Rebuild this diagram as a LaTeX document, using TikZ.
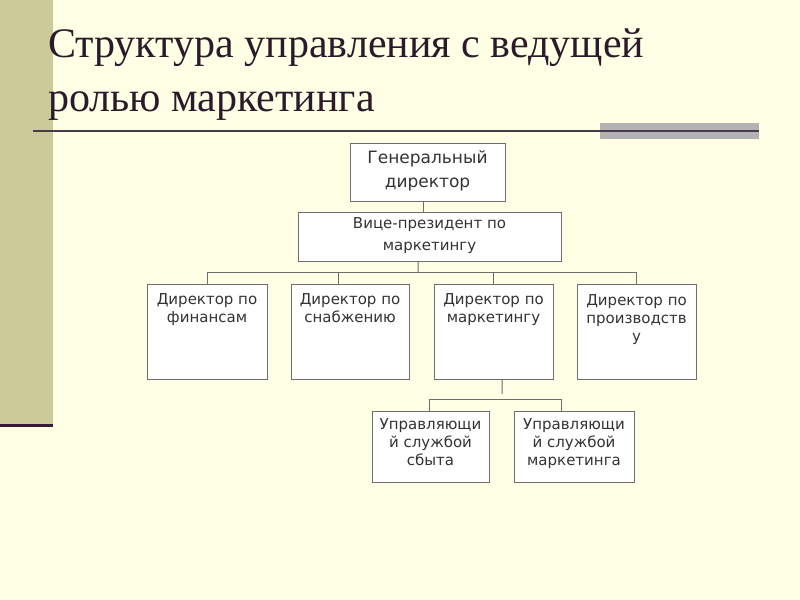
\documentclass[tikz,border=0pt]{standalone}
\usepackage{fontspec}
\setmainfont{Liberation Serif}
\newfontfamily\boxfont{DejaVu Sans}
\definecolor{bg}{HTML}{FFFFE5}
\definecolor{barc}{HTML}{CBCB9A}
\definecolor{titlec}{HTML}{2B1A2B}
\definecolor{rulec}{HTML}{4B3A4B}
\definecolor{grayrect}{HTML}{B2B2B2}
\definecolor{barline}{HTML}{3A1A3A}
\definecolor{boxline}{HTML}{6E6E6E}
\definecolor{txtc}{HTML}{333333}
\tikzset{
  orgbox/.style={draw=boxline, line width=1bp, fill=white, inner sep=0pt},
  lbl/.style={text=txtc, align=center, inner sep=0pt, anchor=base,
    font=\boxfont\fontsize{15bp}{18bp}\selectfont},
  lblbig/.style={lbl, font=\boxfont\fontsize{17bp}{24bp}\selectfont},
  lblmid/.style={lbl, font=\boxfont\fontsize{15bp}{21bp}\selectfont},
  conn/.style={draw=boxline, line width=1bp},
  ttl/.style={text=titlec, anchor=base west, inner sep=0pt,
    font=\fontsize{42bp}{54bp}\selectfont}
}
\begin{document}
\begin{tikzpicture}[x=1bp,y=-1bp]
\useasboundingbox (0,0) rectangle (800,600);
\fill[bg] (0,0) rectangle (800,600);
% left bar
\fill[barc] (0,0) rectangle (53,425);
\fill[barline] (0,423.5) rectangle (53,427);
% title
\node[ttl] (t1) at (48,58) {Структура управления с ведущей};
\node[ttl] (t2) at (48,112) {ролью маркетинга};
% rule
\fill[grayrect] (600,123) rectangle (759,139);
\draw[rulec, line width=2bp] (33,131) -- (759,131);
% boxes
\node[orgbox, minimum width=155bp, minimum height=57bp] (gd) at (427.5,172.5) {};
\node[orgbox, minimum width=263bp, minimum height=48bp] (vp) at (429.5,237) {};
\node[orgbox, minimum width=120bp, minimum height=95bp] (b1) at (207,331.5) {};
\node[orgbox, minimum width=118bp, minimum height=95bp] (b2) at (350,331.5) {};
\node[orgbox, minimum width=119bp, minimum height=95bp] (b3) at (493.5,331.5) {};
\node[orgbox, minimum width=119bp, minimum height=95bp] (b4) at (636.5,331.5) {};
\node[orgbox, minimum width=117bp, minimum height=71bp] (b5) at (430.5,446.5) {};
\node[orgbox, minimum width=120bp, minimum height=71bp] (b6) at (574,446.5) {};
% labels (anchor base = baseline of the last line)
\node[lblbig] (gdl) at (427.5,188) {Генеральный\\директор};
\node[lblmid] (vpl) at (429.5,250) {Вице-президент по\\маркетингу};
\node[lbl] (b1l) at (207,322.5) {Директор по\\финансам};
\node[lbl] (b2l) at (350,322.5) {Директор по\\снабжению};
\node[lbl] (b3l) at (493.5,322.5) {Директор по\\маркетингу};
\node[lbl] (b4l) at (636.5,341.5) {Директор по\\производств\\у};
\node[lbl] (b5l) at (430.5,465) {Управляющи\\й службой\\сбыта};
\node[lbl] (b6l) at (574,465) {Управляющи\\й службой\\маркетинга};
% connectors
\coordinate (j1) at (418,272);
\coordinate (j2) at (502,394);
\coordinate (j3) at (429,399);
\draw[conn] ([xshift=-4.5bp]gd.south) -- ([xshift=-4.5bp]gd.south |- vp.north);
\draw[conn] ([xshift=-11.5bp]vp.south) -- (j1);
\draw[conn] (b1.north) -- (b1.north |- j1) -- (b4.north |- j1) -- (b4.north);
\draw[conn] ([xshift=-12bp]b2.north) -- ([xshift=-12bp]b2.north |- j1);
\draw[conn] (b3.north) -- (b3.north |- j1);
\draw[conn] ([xshift=8.5bp]b3.south) -- (j2);
\draw[conn] ([xshift=-1.5bp]b5.north) -- ([xshift=-1.5bp]b5.north |- j3) -- ([xshift=-13bp]b6.north |- j3) -- ([xshift=-13bp]b6.north);
\end{tikzpicture}
\end{document}
